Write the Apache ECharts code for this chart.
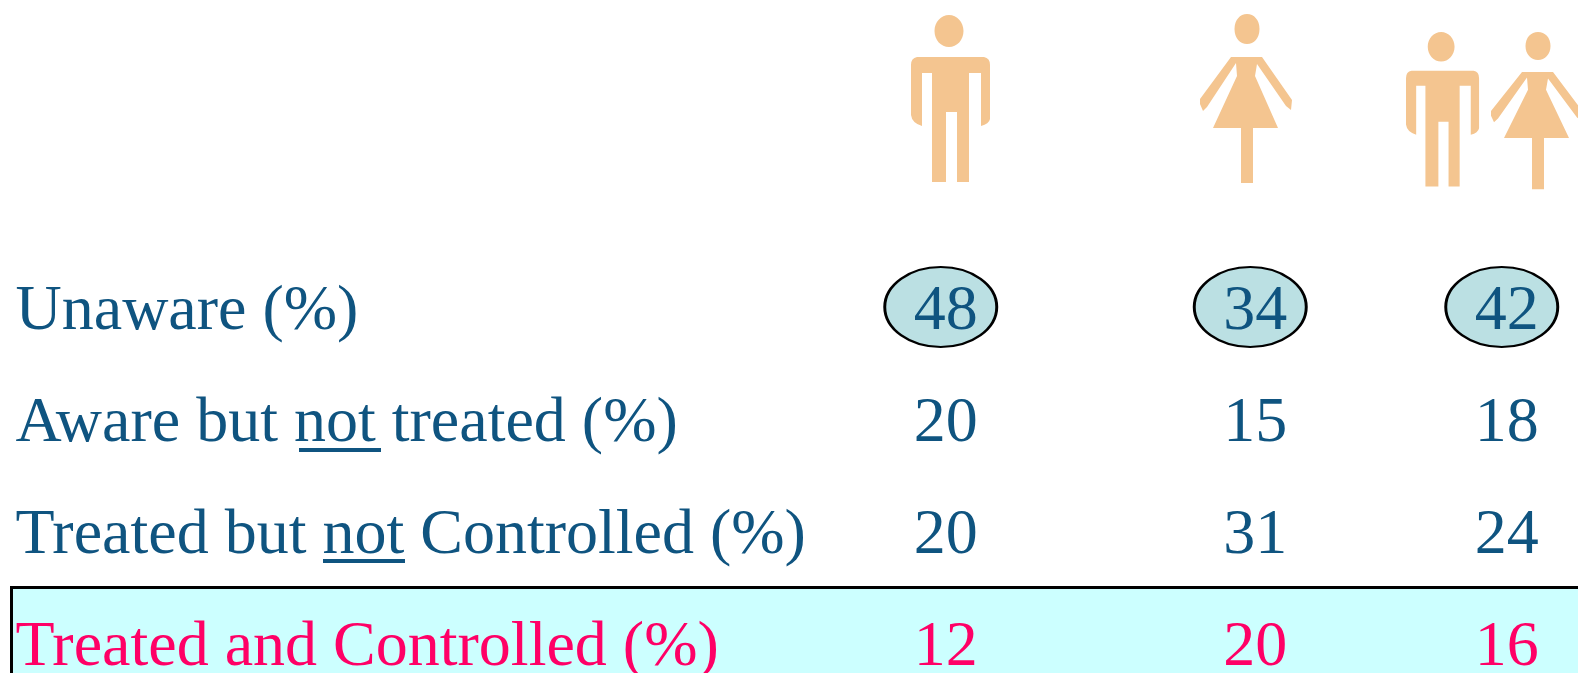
<!DOCTYPE html>
<html>
<head>
<meta charset="utf-8">
<style>
  html, body { margin: 0; padding: 0; background: #fff; }
  #chart { width: 1578px; height: 673px; }
</style>
<script src="https://cdn.jsdelivr.net/npm/echarts@6/dist/echarts.min.js"></script>
</head>
<body>
<div id="chart"></div>
<script>
  const groups = ['Men', 'Women', 'All'];
  const rows = ['Unaware (%)', 'Aware but not treated (%)', 'Treated but not Controlled (%)', 'Treated and Controlled (%)'];
  const unaware = [48, 34, 42];
  const awareNotTreated = [20, 15, 18];
  const treatedNotControlled = [20, 31, 24];
  const treatedControlled = [12, 20, 16];

  const BLUE = '#0F5480';
  const PINK = '#FF0066';
  const PEACH = '#F4C590';
  const FONT = '"Liberation Serif", serif';

  // middle column sits a bit right of an even split in the picture
  const columnNudge = [0, 29, 0];

  const MAN = 'M6 42H73Q79 43 79 50V104Q78 109 70 111V58H58V167H46V97H35V167H21V58H11V111Q1 108 0 100V50Q0 43 6 42Z'
    + 'M38 0C46 0 52.500 7 52.500 16C52.500 25 46 32 38 32C30 32 23.500 25 23.500 16C23.500 7 30 0 38 0Z';
  const WOMAN = 'M31 43H62L92 86L91 96L86 92L57 50L55 62L78 114H53V169H41V114H13L37 62L36 49L7 93L3 97L0 90V85Z'
    + 'M47 0C54 0 59.500 6 59.500 15C59.500 24 54 30 47 30C40 30 34.500 24 34.500 15C34.500 6 40 0 47 0Z';

  // the pictograms on top: path, left, top, scaleX, scaleY
  const icons = [
    [MAN, 911, 15, 1, 1],
    [WOMAN, 1200, 14, 1, 1],
    [MAN, 1406, 32, 0.925, 0.925],
    [WOMAN, 1491, 32, 1, 0.93]
  ];

  function textSeries(name, values, rowIdx, color) {
    return {
      name: name,
      type: 'scatter',
      symbolSize: 1,
      itemStyle: { color: 'transparent', opacity: 1 },
      z: 5,
      data: values.map((v, i) => ({ value: [i, rowIdx, v], symbolOffset: [columnNudge[i], 0] })),
      label: {
        show: true,
        position: 'inside',
        formatter: p => String(p.value[2]),
        fontFamily: FONT,
        fontSize: 64,
        color: color
      }
    };
  }

  const chartObj = echarts.init(document.getElementById('chart'), null, { renderer: 'canvas' });

  chartObj.setOption({
    animation: false,
    backgroundColor: '#fff',
    graphic: [
      {
        type: 'rect',
        z: 0,
        silent: true,
        shape: { x: 11.5, y: 587.500, width: 1600, height: 120 },
        style: { fill: '#CCFFFF', stroke: '#000', lineWidth: 3 }
      },
      { type: 'rect', z: 3, silent: true, shape: { x: 299, y: 448, width: 82, height: 4 }, style: { fill: BLUE } },
      { type: 'rect', z: 3, silent: true, shape: { x: 323, y: 559, width: 82, height: 4 }, style: { fill: BLUE } }
    ],
    grid: { left: 805.500, top: 256, width: 841.500, height: 448, outerBoundsMode: 'none' },
    xAxis: {
      type: 'category',
      data: groups,
      axisLine: { show: false },
      axisTick: { show: false },
      axisLabel: { show: false },
      splitLine: { show: false }
    },
    yAxis: {
      type: 'category',
      data: rows,
      inverse: true,
      axisLine: { show: false },
      axisTick: { show: false },
      splitLine: { show: false },
      axisLabel: {
        margin: 790,
        align: 'left',
        fontFamily: FONT,
        fontSize: 64,
        color: (value, idx) => idx === 3 ? PINK : BLUE
      }
    },
    series: [
      {
        name: 'Icons',
        type: 'custom',
        coordinateSystem: 'none',
        silent: true,
        data: icons.map((d, i) => i),
        renderItem: (params) => {
          const d = icons[params.dataIndex];
          return {
            type: 'path',
            x: d[1],
            y: d[2],
            scaleX: d[3],
            scaleY: d[4],
            shape: { pathData: d[0] },
            style: { fill: PEACH }
          };
        }
      },
      {
        name: 'Unaware ring',
        type: 'scatter',
        symbol: 'circle',
        symbolSize: [112, 80],
        z: 4,
        itemStyle: { color: '#BBE0E3', borderColor: '#000', borderWidth: 2.500, opacity: 1 },
        data: unaware.map((v, i) => ({ value: [i, 0, v], symbolOffset: [columnNudge[i] - 5, -5] }))
      },
      textSeries(rows[0], unaware, 0, BLUE),
      textSeries(rows[1], awareNotTreated, 1, BLUE),
      textSeries(rows[2], treatedNotControlled, 2, BLUE),
      textSeries(rows[3], treatedControlled, 3, PINK)
    ]
  });
</script>
</body>
</html>
